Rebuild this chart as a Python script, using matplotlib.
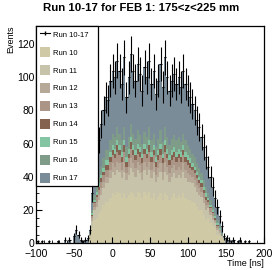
import numpy as np
import matplotlib.pyplot as plt
from matplotlib.lines import Line2D
from matplotlib.patches import Patch
from matplotlib.ticker import MultipleLocator

# 3 ns bins from -100 to 200 ns
bin_edges = np.arange(-100, 201, 3)
bin_centers = bin_edges[:-1] + 1.5
first_bin = 23  # first filled bin, centre -29.5 ns

run_names = ['Run 10', 'Run 11', 'Run 12', 'Run 13', 'Run 14', 'Run 15', 'Run 16', 'Run 17']
run_colors = ['#d0c9a5', '#c6c3aa', '#b6a998', '#ab9586', '#85614f', '#83c4a3', '#7e9c88', '#7b8c99']

run10 = [3, 9, 14, 15, 18, 20, 23, 25, 25, 27, 30, 29, 31, 30, 27, 30, 27, 29, 31, 30,
         28, 31, 30, 27, 31, 29, 31, 27, 30, 26, 28, 30, 26, 30, 29, 26, 28, 30, 27, 29,
         27, 30, 27, 26, 26, 25, 24, 22, 20, 20, 17, 14, 15, 12, 10, 9, 5, 4, 3, 2]
run11 = [1, 4, 6, 7, 8, 9, 10, 11, 11, 12, 13, 12, 13, 13, 12, 13, 11, 12, 14, 13,
         12, 13, 12, 11, 13, 12, 13, 12, 13, 11, 12, 13, 12, 13, 12, 11, 12, 12, 12, 12,
         12, 13, 12, 11, 11, 11, 10, 9, 9, 8, 7, 6, 6, 5, 4, 3, 3, 2, 1, 1]
run12 = [0, 2, 2, 3, 3, 4, 4, 4, 4, 5, 5, 5, 5, 5, 5, 6, 4, 5, 6, 5,
         5, 5, 5, 5, 5, 5, 5, 5, 5, 4, 5, 5, 5, 6, 5, 5, 5, 5, 5, 5,
         5, 5, 5, 5, 4, 4, 4, 4, 4, 3, 3, 3, 2, 2, 2, 1, 1, 1, 0, 0]
run13 = [1, 1, 2, 3, 3, 4, 4, 4, 4, 5, 5, 5, 6, 5, 5, 6, 4, 5, 6, 5,
         5, 5, 5, 5, 5, 5, 6, 5, 5, 5, 5, 5, 5, 6, 5, 5, 5, 5, 5, 5,
         5, 5, 5, 5, 4, 4, 4, 4, 3, 3, 3, 3, 2, 2, 2, 1, 1, 1, 1, 0]
run14 = [0, 1, 1, 1, 2, 2, 2, 3, 3, 3, 3, 3, 4, 3, 3, 4, 3, 3, 4, 3,
         3, 3, 3, 3, 3, 3, 4, 3, 3, 3, 3, 4, 3, 4, 3, 3, 3, 3, 3, 3,
         3, 3, 3, 3, 3, 2, 2, 2, 2, 2, 2, 2, 1, 1, 1, 1, 1, 0, 0, 0]
run15 = [0, 1, 1, 2, 2, 2, 2, 3, 3, 3, 3, 3, 3, 3, 3, 3, 3, 3, 3, 3,
         3, 3, 3, 3, 3, 3, 3, 3, 3, 3, 3, 3, 3, 3, 3, 3, 3, 3, 3, 3,
         3, 3, 3, 3, 3, 2, 2, 2, 2, 2, 2, 2, 1, 1, 1, 1, 1, 1, 0, 0]
run16 = [1, 2, 3, 4, 4, 5, 6, 6, 6, 7, 7, 7, 8, 7, 7, 8, 6, 7, 8, 7,
         7, 8, 7, 6, 7, 7, 8, 7, 7, 6, 7, 8, 7, 8, 7, 6, 7, 7, 7, 7,
         6, 7, 7, 6, 6, 6, 6, 5, 5, 4, 4, 4, 3, 3, 2, 2, 2, 1, 1, 0]
run17 = [2, 10, 16, 20, 22, 26, 29, 32, 30, 36, 38, 36, 40, 38, 34, 42, 30, 36, 42, 38,
         35, 40, 37, 32, 39, 36, 40, 34, 38, 32, 35, 40, 33, 42, 36, 33, 35, 37, 34, 36,
         33, 38, 34, 33, 31, 30, 28, 26, 25, 22, 20, 18, 16, 14, 12, 9, 8, 6, 4, 1]

# sparse counts outside the main pulse (bin centre, events)
tail_times = [-98.5, -92.5, -83.5, -71.5, -62.5, -56.5, -50.5, -47.5, -44.5, -41.5, -38.5, -35.5, -32.5,
              150.5, 153.5, 156.5, 159.5, 165.5, 168.5, 174.5, 180.5]
tail_counts = [1, 1, 1, 1, 2, 2, 4, 8, 5, 2, 1, 2, 3,
               3, 2, 1, 2, 1, 2, 1, 1]

runs = [run10, run11, run12, run13, run14, run15, run16, run17]
n_bins = len(bin_centers)
stack = np.zeros((len(runs), n_bins))
for k, r in enumerate(runs):
    stack[k, first_bin:first_bin + len(r)] = r
for t, c in zip(tail_times, tail_counts):
    stack[-1, np.searchsorted(bin_edges, t) - 1] += c

total = stack.sum(axis=0)

plt.rcParams['font.family'] = ['Liberation Sans', 'DejaVu Sans']
fig = plt.figure(figsize=(2.72, 2.70), dpi=100)
ax = fig.add_axes([0.134, 0.1, 0.837, 0.804])

bottom = np.zeros(n_bins)
for k in range(len(runs)):
    ax.bar(bin_centers, stack[k], width=3, bottom=bottom, color=run_colors[k], linewidth=0)
    bottom += stack[k]

# combined histogram with Poisson errors
nz = total > 0
ax.errorbar(bin_centers[nz], total[nz], yerr=np.sqrt(total[nz]), xerr=1.5,
            fmt='none', ecolor='black', elinewidth=0.8)

ax.set_xlim(-100, 200)
ax.set_ylim(0, 131)
ax.xaxis.set_major_locator(MultipleLocator(50))
ax.xaxis.set_minor_locator(MultipleLocator(10))
ax.yaxis.set_major_locator(MultipleLocator(20))
ax.yaxis.set_minor_locator(MultipleLocator(5))
ax.tick_params(which='both', direction='in', labelsize=7.5)
ax.tick_params(axis='x', pad=4.5)
ax.tick_params(axis='y', pad=1.5)
ax.tick_params(which='major', length=4)
ax.tick_params(which='minor', length=2)
for s in ax.spines.values():
    s.set_linewidth(0.9)

ax.set_xlabel('Time [ns]', fontsize=6.5, loc='right', labelpad=0)
ax.set_ylabel('Events', fontsize=6.5, loc='top', labelpad=1)
fig.suptitle('Run 10-17 for FEB 1: 175<z<225 mm', fontsize=8.2, fontweight='bold', x=0.52, y=0.988)

handles = [Line2D([0], [0], color='black', lw=0.8, marker='|', markersize=3)]
handles += [Patch(facecolor=c, edgecolor='none') for c in run_colors]
labels = ['Run 10-17'] + run_names
leg = ax.legend(handles, labels, loc='upper left', bbox_to_anchor=(0, 0, 0.27, 1), mode='expand',
                borderaxespad=0, fontsize=5.5, handlelength=1.4, handleheight=1.7, labelspacing=1.0,
                handletextpad=0.4, borderpad=0.4, fancybox=False, framealpha=1)
leg.get_frame().set_edgecolor('black')
leg.get_frame().set_linewidth(0.9)

plt.savefig('out.png', dpi=100)
